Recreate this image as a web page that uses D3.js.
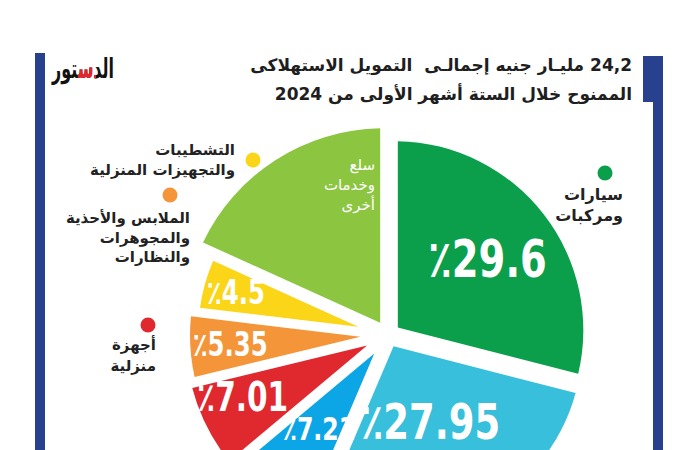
<!DOCTYPE html>
<html><head><meta charset="utf-8">
<script src="https://cdn.jsdelivr.net/npm/d3@7/dist/d3.min.js"></script>
<style>html,body{margin:0;padding:0;background:#fff;overflow:hidden}</style>
</head><body><svg id="c" width="700" height="450"></svg>
<script>
// ---- data ----
const categories = ["سيارات ومركبات", "", "", "أجهزة منزلية", "الملابس والأحذية والمجوهرات والنظارات", "التشطيبات والتجهيزات المنزلية", "سلع وخدمات أخرى"];
const shares = [29.6, 27.95, 7.21, 7.01, 5.35, 4.5, 18.38];
const shareLabels = ["29.6", "27.95", "7.21", "7.01", "5.35", "4.5", ""];
const legendLines = [["سيارات", "ومركبات"], [], [], ["أجهزة", "منزلية"], ["الملابس والأحذية", "والمجوهرات", "والنظارات"], ["التشطيبات", "والتجهيزات المنزلية"], ["سلع", "وخدمات", "أخرى"]];
const titleLines = ["24,2 مليـار جنيه إجمالـى  التمويل الاستهلاكى", "الممنوح خلال الستة أشهر الأولى من 2024"];
const logoText = "الدستور";

// ---- style ----
const colors = ["#0b9f4b", "#37bfdb", "#0ca6e6", "#e0282f", "#f5953a", "#fbd518", "#8cc540"];
const outerR = [189, 191, 183, 195, 190, 182, 200];
const labelR = [118, 88, 108, 150, 150, 150, 0];
const labelFrac = [0.5, 0.5, 0.5, 0.65, 0.5, 0.5, 0.5];
const labelSize = [52, 50, 32, 40, 33, 33, 0];
const legendPos = [
  {dot: [605, 173], x: 623, y: 200, lh: 21, fill: "#222", weight: "bold", size: 16},
  null, null,
  {dot: [148, 325], x: 156, y: 350, lh: 21, fill: "#222", weight: "bold", size: 15},
  {dot: [170, 195], x: 190, y: 223, lh: 19.5, fill: "#222", weight: "bold", size: 15},
  {dot: [253, 160], x: 235, y: 155, lh: 20, fill: "#222", weight: "bold", size: 15},
  {dot: null, x: 375, y: 170, lh: 20, fill: "#fff", weight: "normal", size: 15}
];
const cx = 388, cy = 335, explode = 8, gapHalf = 3.5, padR = 200;
const arabicFont = "'DejaVu Sans', sans-serif";
const numFont = "'DejaVu Sans', sans-serif";
const numSqueeze = 0.74;

const svg = d3.select("#c");
svg.append("rect").attr("width", 700).attr("height", 450).attr("fill", "#fff");

// side bars
svg.append("rect").attr("x", 35).attr("y", 53).attr("width", 10).attr("height", 400).attr("fill", "#27418e");
svg.append("rect").attr("x", 653).attr("y", 56).attr("width", 10).attr("height", 400).attr("fill", "#27418e");
svg.append("rect").attr("x", 643).attr("y", 56).attr("width", 12).attr("height", 46).attr("fill", "#27418e");

// logo
const defs = svg.append("defs");
defs.append("clipPath").attr("id", "logoClip").append("rect").attr("x", 78).attr("y", 50).attr("width", 18).attr("height", 40);
const logo = svg.append("g");
[["#111", null], ["#e3262b", "url(#logoClip)"]].forEach(([fill, clip]) => {
  logo.append("text").attr("x", 52).attr("y", 78).attr("textLength", 62).attr("lengthAdjust", "spacingAndGlyphs")
    .attr("clip-path", clip)
    .attr("font-family", arabicFont).attr("font-weight", "bold").attr("font-size", 27).attr("fill", fill).text(logoText);
});

// title
svg.selectAll("text.title").data(titleLines).join("text").attr("class", "title")
  .attr("x", 632).attr("y", (d, i) => 71 + i * 29)
  .attr("direction", "rtl").attr("text-anchor", "start").style("white-space", "pre")
  .attr("font-family", arabicFont).attr("font-weight", "bold").attr("font-size", 17).attr("fill", "#1e1e1e")
  .text(d => d);

// pie
const padAngle = 2 * Math.asin(gapHalf / padR);
const pie = d3.pie().sort(null).value(d => d).padAngle(padAngle);
const arcs = pie(shares);
const arc = d3.arc()
  .outerRadius(d => outerR[d.index])
  .innerRadius(d => gapHalf / Math.sin((d.endAngle - d.startAngle) / 2))
  .padRadius(padR);

const g = svg.append("g").attr("transform", `translate(${cx},${cy})`);
const slice = g.selectAll("g.slice").data(arcs).join("g").attr("class", "slice")
  .attr("transform", d => {
    const m = (d.startAngle + d.endAngle) / 2;
    return `translate(${explode * Math.sin(m)},${-explode * Math.cos(m)})`;
  });
slice.append("path").attr("d", arc).attr("fill", (d, i) => colors[i]);

slice.filter(d => shareLabels[d.index] !== "").append("text")
  .attr("transform", d => {
    const i = d.index;
    const a = d.startAngle + labelFrac[i] * (d.endAngle - d.startAngle);
    const lab = d3.arc().innerRadius(labelR[i]).outerRadius(labelR[i]);
    const [x, y] = lab.centroid({startAngle: a, endAngle: a});
    return `translate(${x},${y}) scale(${numSqueeze},1)`;
  })
  .attr("text-anchor", "middle").attr("dy", "0.36em")
  .attr("font-family", numFont).attr("font-weight", "bold")
  .attr("font-size", d => labelSize[d.index]).attr("fill", "#fff")
  .text(d => "٪" + shareLabels[d.index]);

// legends
legendPos.forEach((p, i) => {
  if (!p) return;
  if (p.dot) svg.append("circle").attr("cx", p.dot[0]).attr("cy", p.dot[1]).attr("r", 7.5).attr("fill", colors[i]);
  svg.append("g").selectAll("text").data(legendLines[i]).join("text")
    .attr("x", p.x).attr("y", (d, k) => p.y + k * p.lh)
    .attr("direction", "rtl").attr("text-anchor", "start")
    .attr("font-family", arabicFont).attr("font-weight", p.weight).attr("font-size", p.size).attr("fill", p.fill)
    .text(d => d);
});
</script></body></html>
